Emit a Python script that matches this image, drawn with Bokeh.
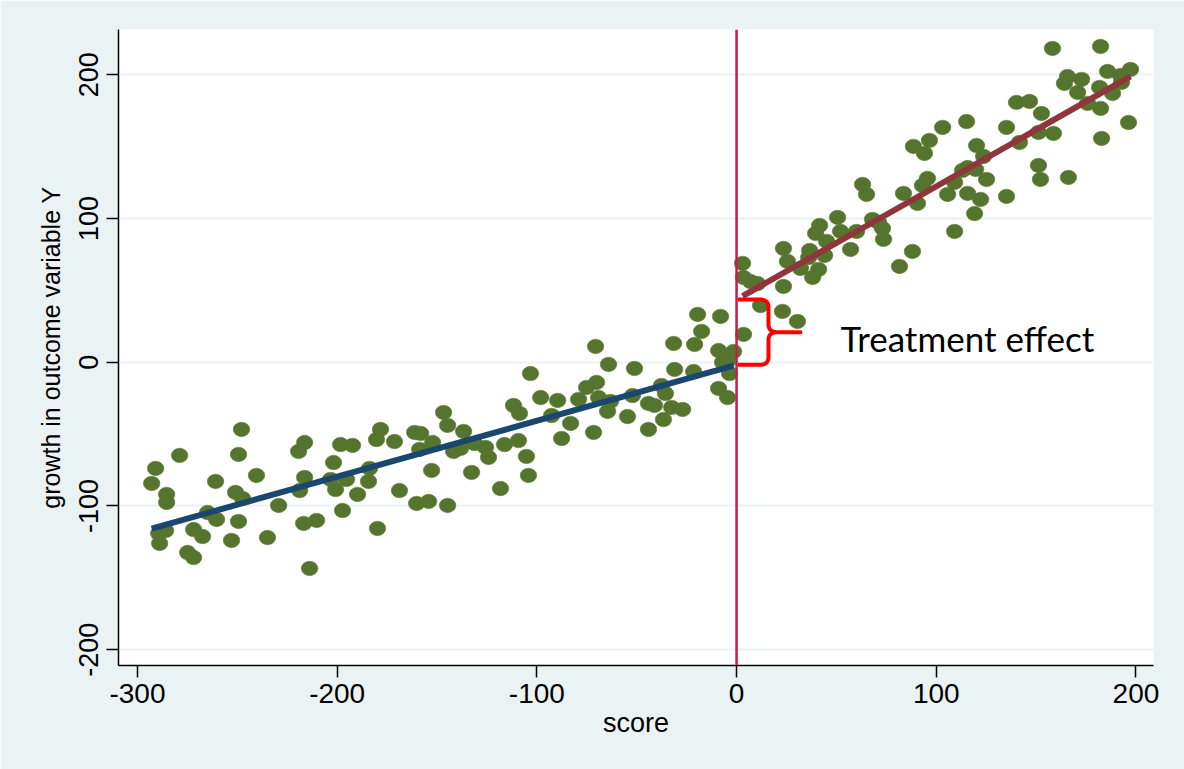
import numpy as np
from bokeh.plotting import figure
from bokeh.models import FixedTicker, Span, Label
from bokeh.embed import file_html
from bokeh.resources import INLINE

# ---------------- data ----------------
score = [
    -247.9, -278.9, -290.9, -292.9, -285.4, -285.4, -249.4, -260.9, -240.4, -250.9,
    -247.4, -229.3, -264.9, -260.4, -249.4, -271.9, -267.4, -285.9, -289.4, -288.9,
    -252.9, -234.9, -274.9, -271.9, -216.3, -219.3, -201.8, -216.3, -218.8, -203.3,
    -200.8, -195.3, -198.3, -192.3, -197.3, -216.8, -210.3, -213.8,
    -103.2, -98.1, -111.7, -108.7, -146.7, -144.7, -178.3, -180.3, -171.3, -161.2,
    -158.2, -152.2, -158.7, -136.7, -141.7, -138.2, -131.2, -125.7, -124.2, -116.2,
    -109.2, -105.2, -104.2, -118.2, -132.7, -152.7, -183.8, -184.3, -189.8, -168.8,
    -160.2, -154.2, -144.7, -179.8, -92.6,
    -19.5, -8.0, -17.5, -31.5, -21.0, -70.6, -64.1, -51.1, -31.0, -21.5,
    -9.0, -1.5, -4.5, -7.0, -3.5, -9.0, -4.5, -70.1, -75.1, -89.6,
    -79.1, -69.1, -63.1, -52.1, -37.6, -35.6, -44.1, -41.1, -32.5, -27.0,
    -64.6, -54.6, -83.1, -36.6, -44.1, -71.6, -87.6,
    3.5, 63.1, 65.1, 83.6, 90.6, 95.6, 93.1, 50.6, 41.6, 39.6,
    45.1, 52.1, 60.1, 68.1, 71.1, 73.1, 73.6, 57.1, 23.5, 36.6,
    36.1, 44.1, 25.5, 32.0, 41.1, 38.1, 88.1, 81.6, 3.0, 3.5,
    7.0, 10.5, 23.5, 12.0, 23.0, 30.5,
    158.2, 182.3, 185.8, 192.3, 197.3, 192.8, 181.8, 188.3, 165.7, 164.2,
    172.8, 170.8, 175.8, 182.3, 196.3, 182.8, 140.2, 146.7, 152.7, 135.2,
    151.2, 158.7, 141.7, 115.2, 103.2, 96.6, 88.6, 94.1, 120.2, 123.7,
    113.2, 115.7, 119.7, 125.2, 109.2, 105.7, 115.7, 122.2, 135.2, 119.2,
    109.2, 151.2, 152.2, 166.2,
]
growth = [
    -46.8, -64.9, -73.9, -84.4, -92.0, -97.6, -64.2, -83.0, -78.8, -90.6,
    -94.8, -99.7, -104.6, -109.4, -110.8, -116.4, -121.3, -117.1, -119.2, -126.1,
    -124.0, -122.0, -132.4, -135.9, -55.9, -62.1, -69.8, -80.2, -89.3, -81.6,
    -88.6, -81.6, -57.3, -57.9, -103.2, -112.2, -110.1, -143.5,
    -7.9, -24.6, -30.1, -35.7, -35.0, -44.0, -46.8, -53.8, -55.2, -48.9,
    -49.6, -55.9, -60.7, -48.2, -62.1, -60.0, -56.6, -59.3, -66.3, -57.3,
    -54.5, -65.6, -78.8, -87.9, -76.7, -75.3, -73.9, -83.0, -92.0, -89.3,
    -98.3, -96.9, -99.7, -115.7, -37.1,
    33.2, 31.8, 21.4, 13.0, 12.3, 10.9, -1.6, -4.4, -5.1, -6.5,
    8.1, 7.4, 0.5, -0.2, -7.9, -18.3, -24.6, -14.1, -17.6, -26.6,
    -25.9, -24.6, -27.3, -23.2, -16.2, -21.8, -28.7, -30.1, -31.5, -32.9,
    -34.3, -37.8, -42.6, -39.9, -46.8, -48.9, -53.1,
    19.3, 123.6, 116.7, 117.4, 110.4, 127.8, 122.9, 100.7, 95.1, 89.5,
    84.0, 90.9, 90.9, 99.3, 97.2, 93.0, 85.4, 78.4, 79.1, 77.7,
    72.8, 74.2, 70.1, 65.2, 64.5, 58.9, 77.0, 66.6, 68.7, 58.9,
    56.1, 54.7, 52.7, 39.4, 35.3, 28.3,
    218.2, 219.6, 202.2, 199.4, 203.6, 194.6, 191.1, 186.9, 198.7, 193.9,
    196.7, 187.6, 180.0, 176.5, 166.7, 155.6, 180.7, 181.4, 173.0, 163.3,
    159.8, 159.1, 152.8, 167.4, 163.3, 154.2, 150.1, 145.2, 150.7, 143.1,
    133.4, 135.4, 134.1, 127.1, 125.0, 116.7, 117.4, 113.2, 115.3, 103.4,
    90.9, 136.8, 127.1, 128.5,
]
cutoff = 0
x_ticks = [-300, -200, -100, 0, 100, 200]
x_tick_labels = ["-300", "-200", "-100", "0", "100", "200"]
y_ticks = [-200, -100, 0, 100, 200]
y_tick_labels = ["-200", "-100", "0", "100", "200"]
x_title = "score"
y_title = "growth in outcome variable Y"
annotation = "Treatment effect"

# ---------------- derived fits ----------------
xs = np.array(score)
ys = np.array(growth)
left = xs < cutoff
right = ~left
bl = np.polyfit(xs[left], ys[left], 1)
br = np.polyfit(xs[right], ys[right], 1)
lx = np.array([xs[left].min(), xs[left].max()])
rx = np.array([xs[right].min(), xs[right].max()])

# ---------------- figure ----------------
BG = "#EAF2F3"
p = figure(width=1184, height=769, x_range=(-309.5, 208.8), y_range=(-211.0, 231.4),
           output_backend="svg", toolbar_location=None,
           min_border_left=118, min_border_right=31, min_border_top=29, min_border_bottom=104)
p.background_fill_color = "white"
p.border_fill_color = BG
p.outline_line_color = None

p.xgrid.visible = False
p.ygrid.grid_line_color = BG
p.ygrid.grid_line_width = 2

p.xaxis.ticker = FixedTicker(ticks=x_ticks)
p.yaxis.ticker = FixedTicker(ticks=y_ticks)
p.xaxis.major_label_overrides = {t: s for t, s in zip(x_ticks, x_tick_labels)}
p.yaxis.major_label_overrides = {t: s for t, s in zip(y_ticks, y_tick_labels)}
for ax in (p.xaxis[0], p.yaxis[0]):
    ax.axis_line_color = "black"
    ax.axis_line_width = 1.5
    ax.major_tick_line_color = "black"
    ax.major_tick_line_width = 1.5
    ax.major_tick_out = 12
    ax.major_tick_in = 0
    ax.minor_tick_line_color = None
    ax.major_label_text_font = "Liberation Sans"
    ax.axis_label_text_font = "Liberation Sans"
    ax.axis_label_text_font_style = "normal"
    ax.major_label_text_color = "black"
    ax.axis_label_text_color = "black"

p.xaxis.major_label_text_font_size = "28px"
p.xaxis.axis_label_text_font_size = "27px"
p.xaxis.major_label_standoff = 6
p.xaxis.axis_label_standoff = 2
p.xaxis.axis_label = x_title

p.yaxis.major_label_text_font_size = "27px"
p.yaxis.axis_label_text_font_size = "25px"
p.yaxis.major_label_orientation = "vertical"
p.yaxis.major_label_standoff = 8
p.yaxis.axis_label_standoff = 12
p.yaxis.axis_label = y_title

# cutoff line
p.add_layout(Span(location=cutoff, dimension="height", line_color="#CC1A4A", line_width=2.5))

# points
p.ellipse(x=score, y=growth, width=16.5, height=14.5, width_units="screen", height_units="screen",
          fill_color="#55752F", line_color="#55752F", line_width=0.5)

# fit lines
p.line(lx, np.polyval(bl, lx), line_color="#1A476F", line_width=6)
p.line(rx, np.polyval(br, rx), line_color="#90353B", line_width=6)

# brace between the two fitted values at the cutoff
y_bot = np.polyval(bl, cutoff)
y_top = np.polyval(br, cutoff)
y_mid = (y_top + y_bot) / 2
x0 = cutoff + 0.6
xb = cutoff + 16
xt = cutoff + 32
rx_, ry_ = 4.5, 5.5


def quad(p0, c, p1, n=12):
    t = np.linspace(0, 1, n)[:, None]
    p0, c, p1 = map(np.array, (p0, c, p1))
    return (1 - t) ** 2 * p0 + 2 * (1 - t) * t * c + t ** 2 * p1


pts = [np.array([[x0, y_top], [xb - rx_, y_top]]),
       quad((xb - rx_, y_top), (xb, y_top), (xb, y_top - ry_)),
       np.array([[xb, y_mid + ry_]]),
       quad((xb, y_mid + ry_), (xb, y_mid), (xb + rx_, y_mid)),
       np.array([[xt, y_mid], [xb + rx_, y_mid]]),
       quad((xb + rx_, y_mid), (xb, y_mid), (xb, y_mid - ry_)),
       np.array([[xb, y_bot + ry_]]),
       quad((xb, y_bot + ry_), (xb, y_bot), (xb - rx_, y_bot)),
       np.array([[x0, y_bot]])]
path = np.vstack(pts)
p.line(path[:, 0], path[:, 1], line_color="#FF0000", line_width=4, line_join="round")

p.add_layout(Label(x=52, y=16.5, text=annotation, text_font="Lato", text_font_size="35px",
                   text_baseline="middle", text_align="left", text_color="black"))

open("out.html", "w").write(file_html(p, INLINE))
